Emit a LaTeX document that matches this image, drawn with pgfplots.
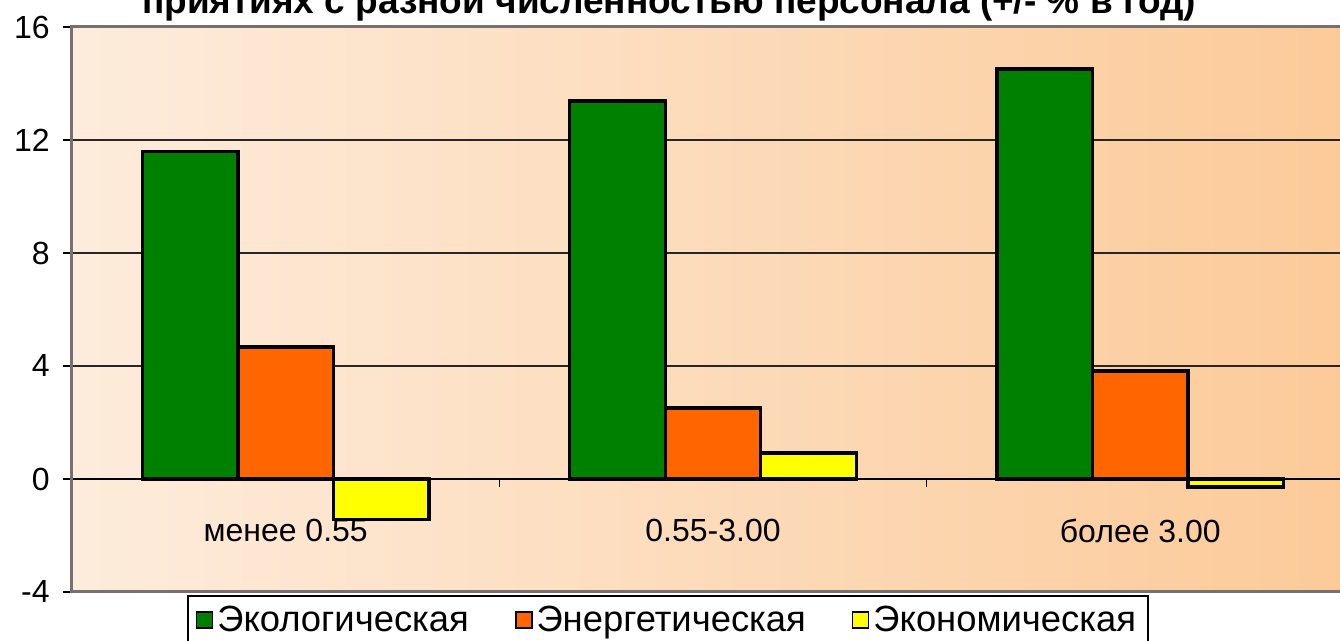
\documentclass[border=0pt]{standalone}
\usepackage{pgfplots}
\pgfplotsset{compat=1.18}
\usepackage{fontspec}
\setmainfont{Liberation Sans}
\definecolor{ecogreen}{RGB}{0,128,0}
\definecolor{enorange}{RGB}{255,102,0}
\definecolor{ecyellow}{RGB}{255,255,0}
\definecolor{bgl}{RGB}{253,236,220}
\definecolor{bgr}{RGB}{252,202,152}
\definecolor{frame}{RGB}{120,112,108}
\begin{document}
\begin{tikzpicture}
\useasboundingbox (-36pt,-24.5pt) rectangle (634pt,296pt);
\node[anchor=base, font=\bfseries\fontsize{18.5}{21}\selectfont] at (298.5pt,289pt) {приятиях с разной численностью персонала (+/- \% в год)};
\begin{axis}[
  at={(0pt,0pt)}, anchor=south west,
  scale only axis, width=641pt, height=282.5pt,
  xmin=-0.5, xmax=2.5, ymin=-4, ymax=16,
  axis x line*=middle, axis y line*=left,
  x axis line style={black, line width=0.7pt},
  y axis line style={frame, line width=1.5pt},
  ytick={-4,0,4,8,12,16},
  xtick={0,1,2},
  xticklabels={менее 0.55, 0.55-3.00, более 3.00},
  minor xtick={0.5,1.5},
  major x tick style={draw=none},
  minor x tick style={black, line width=0.6pt},
  y tick style={black, line width=0.6pt},
  tick align=outside,
  major tick length=4.5pt, minor tick length=4pt,
  ymajorgrids,
  grid style={black!85, line width=0.7pt},
  /pgf/number format/assume math mode=true,
  tick label style={font=\fontsize{16}{18}\selectfont, black},
  xticklabel style={yshift=-12pt},
  yticklabel style={inner sep=1pt, xshift=-5.5pt},
  axis background/.style={left color=bgl, right color=bgr},
  ybar=0pt, bar width=47.75pt,
  legend columns=3,
  legend style={at={(0.0897,-0.0053)}, anchor=north west, draw=black, line width=0.8pt, fill=white,
    font=\fontsize{18.2}{21}\selectfont, inner xsep=4pt, inner ysep=3pt,
    /tikz/every even column/.append style={column sep=21pt}},
  legend image code/.code={\draw[#1, draw=black, line width=0.8pt] (0pt,-4pt) rectangle (8pt,4pt);},
  after end axis/.code={
    \draw[frame, line width=1.5pt] (rel axis cs:0,0) rectangle (rel axis cs:1,1);
  },
]
\addplot[fill=ecogreen, draw=black, line width=1.6pt] coordinates {(0,11.58) (1,13.38) (2,14.51)};
\addplot[fill=enorange, draw=black, line width=1.6pt] coordinates {(0,4.67) (1,2.51) (2,3.82)};
\addplot[fill=ecyellow, draw=black, line width=1.6pt] coordinates {(0,-1.42) (1,0.92) (2,-0.28)};
\legend{Экологическая, Энергетическая, Экономическая}
\end{axis}
\end{tikzpicture}
\end{document}
